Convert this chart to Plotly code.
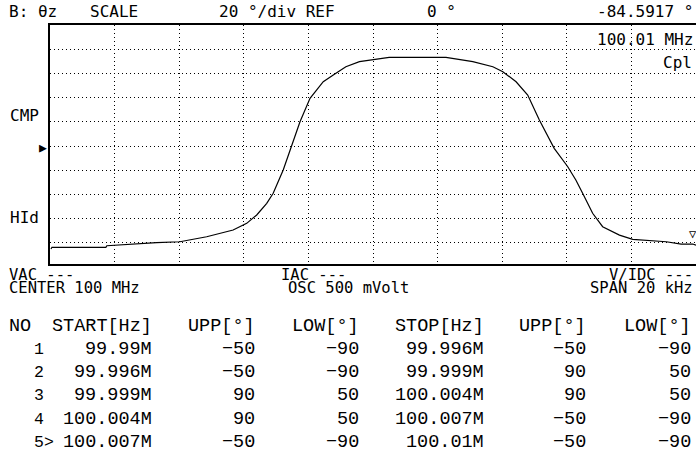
import plotly.graph_objects as go

# ---- data ----
# frequency offset from center (kHz), center = 100 MHz, span 20 kHz
freq_offset_khz = [-9.97, -9.94, -8.27, -8.24, -6.70, -5.98, -5.15, -4.33, -3.91, -3.60,
                   -3.29, -3.09, -2.78, -2.52, -2.26, -1.95, -1.54, -1.23, -0.84, -0.42,
                   0.00, 0.50, 2.26, 3.09, 3.71, 4.02, 4.43, 4.79, 5.15, 5.61,
                   6.03, 6.28, 6.49, 6.80, 7.11, 7.63, 8.04, 8.66, 9.08, 9.54, 9.90, 10.0]
phase_deg = [-85.1, -83.7, -83.7, -82.4, -79.9, -79.1, -75.0, -69.4, -63.9, -57.0,
             -47.4, -39.1, -19.8, -0.6, 20.1, 39.4, 53.1, 58.7, 65.5, 69.7,
             71.6, 73.3, 73.3, 69.7, 65.5, 61.4, 53.1, 42.1, 21.5, -1.9,
             -17.1, -28.1, -39.1, -55.6, -66.7, -73.6, -77.1, -78.5, -79.1, -81.0, -81.0, -82.0]

table_no = ["1", "2", "3", "4", "5>"]
table_start = ["99.99M", "99.996M", "99.999M", "100.004M", "100.007M"]
table_upp1 = ["\u221250", "\u221250", "90", "90", "\u221250"]
table_low1 = ["\u221290", "\u221290", "50", "50", "\u221290"]
table_stop = ["99.996M", "99.999M", "100.004M", "100.007M", "100.01M"]
table_upp2 = ["\u221250", "90", "90", "\u221250", "\u221250"]
table_low2 = ["\u221290", "50", "50", "\u221290", "\u221290"]
table_headers = ["NO", "START[Hz]", "UPP[\u00b0]", "LOW[\u00b0]", "STOP[Hz]", "UPP[\u00b0]", "LOW[\u00b0]"]

# ---- layout geometry (pixels) ----
W, H = 696, 455
L, R, T, B = 50, 696, 25, 264
SCREEN = "DejaVu Sans Mono"
TABLE = "Liberation Mono"


def ann(text, px, py, xanchor="left", size=16, family=SCREEN):
    return dict(text=text, x=(px - L) / (R - L), y=(B - py) / (B - T),
                xref="paper", yref="paper", xanchor=xanchor, yanchor="middle",
                showarrow=False, font=dict(family=family, size=size, color="black"))


fig = go.Figure()
fig.add_trace(go.Scatter(x=freq_offset_khz, y=phase_deg, mode="lines",
                         line=dict(color="black", width=1.2), hoverinfo="skip"))

anns = []
# header line
anns.append(ann("B: \u03b8z", 7, 12))
anns.append(ann("SCALE", 88, 12))
anns.append(ann("20 \u00b0/div REF", 217, 12))
anns.append(ann("0 \u00b0", 425, 12))
anns.append(ann("-84.5917 \u00b0", 695, 12, xanchor="right"))
# inside plot
anns.append(ann("100.01 MHz", 695, 39, xanchor="right"))
anns.append(ann("Cpl", 694, 62, xanchor="right"))
anns.append(ann("\u25bd", 687, 234, size=12))
# left labels
anns.append(ann("CMP", 8, 115))
anns.append(ann("\u25b6", 37, 147, size=13))
anns.append(ann("HId", 8, 217))
# below plot
anns.append(ann("VAC ---", 7, 275, size=15.5))
anns.append(ann("CENTER 100 MHz", 7, 288, size=15.5))
anns.append(ann("IAC ---", 279, 275, size=15.5))
anns.append(ann("OSC 500 mVolt", 286, 288, size=15.5))
anns.append(ann("V/IDC ---", 695, 275, xanchor="right", size=15.5))
anns.append(ann("SPAN 20 kHz", 695, 288, xanchor="right", size=15.5))

# table
row_y0, row_dy = 326, 23.3
col_right = [None, 154, 257, 361, 486, 588, 693]
tsize = 18.5
anns.append(ann(table_headers[0], 7, row_y0, size=tsize, family=TABLE))
for h, xr in zip(table_headers[1:], col_right[1:]):
    anns.append(ann(h, xr, row_y0, xanchor="right", size=tsize, family=TABLE))
cols = [table_start, table_upp1, table_low1, table_stop, table_upp2, table_low2]
for i in range(len(table_no)):
    y = row_y0 + row_dy * (i + 1)
    anns.append(ann(table_no[i], 32, y, size=16.5, family=TABLE))
    for col, xr in zip(cols, col_right[1:]):
        anns.append(ann(col[i], xr, y, xanchor="right", size=tsize, family=TABLE))

fig.update_layout(
    width=W, height=H,
    margin=dict(l=L, r=W - R, t=T, b=H - B, pad=0),
    paper_bgcolor="white", plot_bgcolor="white",
    showlegend=False,
    annotations=anns,
    xaxis=dict(range=[-10, 10], dtick=2, tick0=0, showticklabels=False, ticks="",
               showgrid=True, gridcolor="black", gridwidth=1, griddash="1px,3px",
               zeroline=False, showline=True, mirror=True, linecolor="black", linewidth=1.5,
               fixedrange=True),
    yaxis=dict(range=[-97.5, 100], dtick=20, tick0=0, showticklabels=False, ticks="",
               showgrid=True, gridcolor="black", gridwidth=1, griddash="1px,3px",
               zeroline=False, showline=True, mirror=False, linecolor="black", linewidth=1.5,
               fixedrange=True),
)

fig.write_html("out.html", config={"displayModeBar": False},
               post_script="document.body.style.margin='0';document.body.style.overflow='hidden';")
